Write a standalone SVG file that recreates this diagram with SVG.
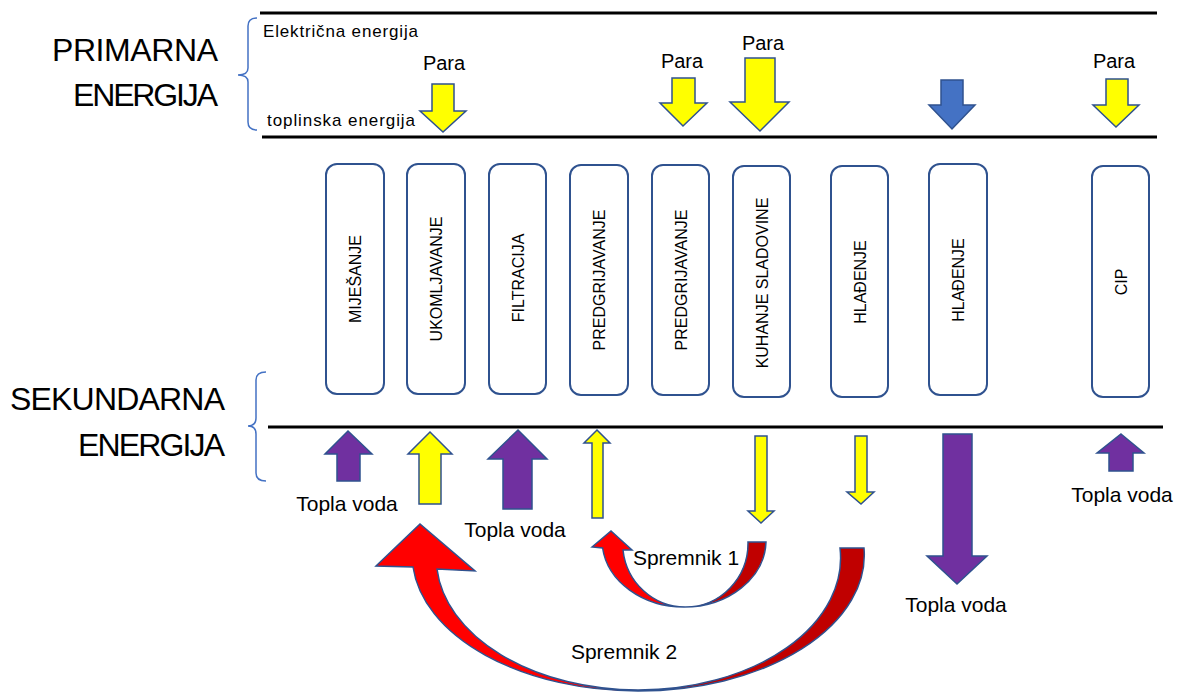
<svg xmlns="http://www.w3.org/2000/svg" width="1178" height="693" viewBox="0 0 1178 693">
<style>
text{font-family:"Liberation Sans",Arial,sans-serif;fill:#000}
.big{font-size:32px}
.lbl{font-size:20px}
.tv{font-size:21px}
.sm{font-size:17px}
.box rect{fill:#fff;stroke:#2F528F;stroke-width:2}
.box text{font-size:16px;text-anchor:middle}
.rule{stroke:#000;stroke-width:3}
.brace{fill:none;stroke:#4472C4;stroke-width:1.5}
.ar{stroke:#2F528F;stroke-width:1.5;stroke-linejoin:miter}
.y{fill:#FFFF00}
.p{fill:#7030A0}
.b{fill:#4472C4}
</style>
<defs>
<linearGradient id="g2" gradientUnits="userSpaceOnUse" x1="376" y1="0" x2="864" y2="0">
<stop offset="0" stop-color="#FF0000"/><stop offset="0.54" stop-color="#FF0000"/><stop offset="0.54" stop-color="#C00000"/><stop offset="1" stop-color="#C00000"/>
</linearGradient>
<linearGradient id="g1" gradientUnits="userSpaceOnUse" x1="592" y1="0" x2="766" y2="0">
<stop offset="0" stop-color="#FF0000"/><stop offset="0.53" stop-color="#FF0000"/><stop offset="0.53" stop-color="#C00000"/><stop offset="1" stop-color="#C00000"/>
</linearGradient>
</defs>
<rect width="1178" height="693" fill="#fff"/>

<g id="frame">
<line class="rule" x1="260" y1="13" x2="1157" y2="13"/>
<line class="rule" x1="262" y1="137" x2="1157" y2="137"/>
<line class="rule" x1="268" y1="427" x2="1163" y2="427"/>
<path class="brace" d="M257 18 Q248 18 248 26 L248 68 Q248 75 238 75 Q248 75 248 82 L248 122 Q248 130 257 130"/>
<path class="brace" d="M266 372 Q256 372 256 380 L256 418 Q256 426 248 426 Q256 426 256 434 L256 473 Q256 481 266 481"/>
</g>

<g id="headings">
<text class="big" x="218" y="61" text-anchor="end" textLength="166">PRIMARNA</text>
<text class="big" x="218" y="106" text-anchor="end" textLength="145">ENERGIJA</text>
<text class="big" x="225" y="410" text-anchor="end" textLength="215">SEKUNDARNA</text>
<text class="big" x="225" y="456" text-anchor="end" textLength="147">ENERGIJA</text>
<text class="sm" x="263" y="37" textLength="155">Električna energija</text>
<text class="sm" x="267" y="126" textLength="148">toplinska energija</text>
</g>

<g id="n1" class="box"><rect x="326" y="164" width="58" height="230" rx="11"/><text transform="translate(355 279) rotate(-90)" y="6">MIJEŠANJE</text></g>
<g id="n2" class="box"><rect x="407" y="164" width="58" height="230" rx="11"/><text transform="translate(436 279) rotate(-90)" y="6">UKOMLJAVANJE</text></g>
<g id="n3" class="box"><rect x="489" y="164" width="57" height="230" rx="11"/><text transform="translate(517.5 278) rotate(-90)" y="6">FILTRACIJA</text></g>
<g id="n4" class="box"><rect x="570" y="165" width="58" height="230" rx="11"/><text transform="translate(599 280) rotate(-90)" y="6">PREDGRIJAVANJE</text></g>
<g id="n5" class="box"><rect x="652" y="165" width="57" height="230" rx="11"/><text transform="translate(680.5 280) rotate(-90)" y="6">PREDGRIJAVANJE</text></g>
<g id="n6" class="box"><rect x="733" y="166" width="57" height="231" rx="11"/><text transform="translate(761.5 283) rotate(-90)" y="6">KUHANJE SLADOVINE</text></g>
<g id="n7" class="box"><rect x="831" y="166" width="57" height="231" rx="11"/><text transform="translate(859.5 282) rotate(-90)" y="6">HLAĐENJE</text></g>
<g id="n8" class="box"><rect x="929" y="164" width="58" height="231" rx="11"/><text transform="translate(958 280) rotate(-90)" y="6">HLAĐENJE</text></g>
<g id="n9" class="box"><rect x="1092" y="166" width="57" height="231" rx="11"/><text transform="translate(1120.5 282) rotate(-90)" y="6">CIP</text></g>

<g id="connectors">
<polygon class="ar y" points="432,84 454,84 454,111 466,111 443,132 420,111 432,111"/>
<polygon class="ar y" points="672,78 695,78 695,103 707,103 683,126 660,103 672,103"/>
<polygon class="ar y" points="745,58 775,58 775,102 789,102 760,131 730,102 745,102"/>
<polygon class="ar b" points="941,80 963,80 963,105 975,105 952,129 929,105 941,105"/>
<polygon class="ar y" points="1106,79 1128,79 1128,105 1139,105 1116,127 1093,105 1106,105"/>

<polygon class="ar p" points="348,431 372,454 360,454 360,481 337,481 337,454 325,454"/>
<polygon class="ar y" points="430,432 452,454 441,454 441,504 419,504 419,454 408,454"/>
<polygon class="ar p" points="518,430 547,459 532,459 532,509 503,509 503,459 488,459"/>
<polygon class="ar y" points="597,430 610,443 603,443 603,518 592,518 592,443 584,443"/>
<polygon class="ar y" points="755,436 767,436 767,511 774,511 761,523 748,511 755,511"/>
<polygon class="ar y" points="855,436 867,436 867,492 874,492 861,504 847,492 855,492"/>
<polygon class="ar p" points="943,434 972,434 972,556 987,556 957,584 927,556 943,556"/>
<polygon class="ar p" points="1121,434 1144,453 1133,453 1133,471 1109,471 1109,453 1097,453"/>

<path class="ar" fill="url(#g2)" d="M376 566 L420 524 L475 571 L437 569 A202 132 0 0 0 638 690 A202 132 0 0 0 840 548 L864 548 A226 136 0 0 1 638 691 A226 136 0 0 1 413 567 Z"/>
<path class="ar" fill="url(#g1)" d="M592 547 L611 531 L632 550 L623 550 A62.5 64 0 0 0 685.5 607 A62.5 64 0 0 0 748 542 L766 542 A82 67 0 0 1 684 607 A82 67 0 0 1 602.6 548 Z"/>
</g>

<g id="labels">
<text class="lbl" x="444" y="70" text-anchor="middle">Para</text>
<text class="lbl" x="682" y="68" text-anchor="middle">Para</text>
<text class="lbl" x="763" y="50" text-anchor="middle">Para</text>
<text class="lbl" x="1114" y="68" text-anchor="middle">Para</text>
<text class="tv" x="347" y="511" text-anchor="middle">Topla voda</text>
<text class="tv" x="515" y="537" text-anchor="middle">Topla voda</text>
<text class="tv" x="956" y="612" text-anchor="middle">Topla voda</text>
<text class="tv" x="1122" y="502" text-anchor="middle">Topla voda</text>
<text class="tv" x="686" y="565" text-anchor="middle">Spremnik 1</text>
<text class="tv" x="624" y="659" text-anchor="middle">Spremnik 2</text>
</g>
</svg>
